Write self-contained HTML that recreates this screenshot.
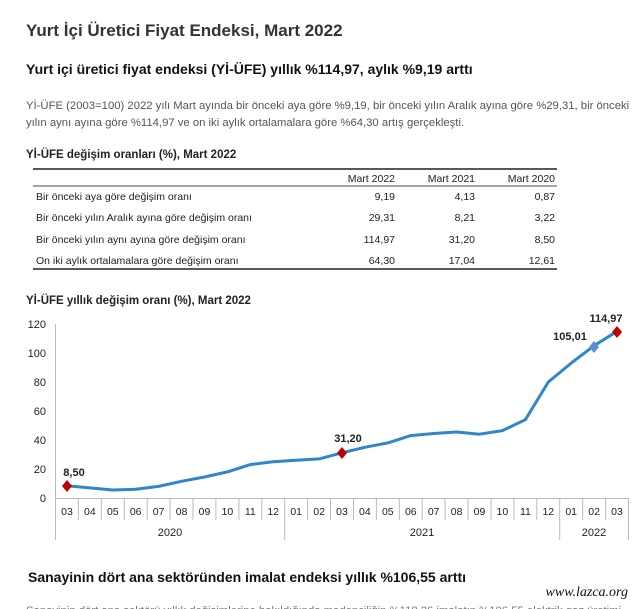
<!DOCTYPE html>
<html><head><meta charset="utf-8"><style>
body{margin:0;width:640px;height:609px;overflow:hidden;background:#fff;font-family:"Liberation Sans",sans-serif;color:#222;position:relative}
.a{position:absolute;white-space:nowrap}
</style></head><body>
<div class="a" style="left:26px;top:21px;font-size:17px;font-weight:bold;color:#333">Yurt İçi Üretici Fiyat Endeksi, Mart 2022</div>
<div class="a" style="left:26px;top:61px;font-size:14px;font-weight:bold;color:#111">Yurt içi üretici fiyat endeksi (Yİ-ÜFE) yıllık %114,97, aylık %9,19 arttı</div>
<div class="a" style="left:26px;top:98px;font-size:11.3px;color:#555;line-height:17px">Yİ-ÜFE (2003=100) 2022 yılı Mart ayında bir önceki aya göre %9,19, bir önceki yılın Aralık ayına göre %29,31, bir önceki<br>yılın aynı ayına göre %114,97 ve on iki aylık ortalamalara göre %64,30 artış gerçekleşti.</div>
<div class="a" style="left:26px;top:149px;font-size:11.5px;font-weight:bold;color:#222">Yİ-ÜFE değişim oranları (%), Mart 2022</div>
<svg class="a" style="left:0;top:0" width="640" height="609" font-family="Liberation Sans, sans-serif">
<line x1="33" y1="169" x2="557" y2="169" stroke="#222" stroke-width="1.5"/>
<line x1="33" y1="186" x2="557" y2="186" stroke="#444" stroke-width="1"/>
<line x1="33" y1="269" x2="557" y2="269" stroke="#222" stroke-width="1.5"/>
<g font-size="10.5" fill="#222">
<text x="395" y="182" text-anchor="end">Mart 2022</text><text x="475" y="182" text-anchor="end">Mart 2021</text><text x="555" y="182" text-anchor="end">Mart 2020</text>
<text x="36" y="200">Bir önceki aya göre değişim oranı</text><text x="395" y="200" text-anchor="end">9,19</text><text x="475" y="200" text-anchor="end">4,13</text><text x="555" y="200" text-anchor="end">0,87</text>
<text x="36" y="221">Bir önceki yılın Aralık ayına göre değişim oranı</text><text x="395" y="221" text-anchor="end">29,31</text><text x="475" y="221" text-anchor="end">8,21</text><text x="555" y="221" text-anchor="end">3,22</text>
<text x="36" y="243">Bir önceki yılın aynı ayına göre değişim oranı</text><text x="395" y="243" text-anchor="end">114,97</text><text x="475" y="243" text-anchor="end">31,20</text><text x="555" y="243" text-anchor="end">8,50</text>
<text x="36" y="264">On iki aylık ortalamalara göre değişim oranı</text><text x="395" y="264" text-anchor="end">64,30</text><text x="475" y="264" text-anchor="end">17,04</text><text x="555" y="264" text-anchor="end">12,61</text>
</g>
<text x="26" y="304" font-size="11.5" font-weight="bold" fill="#222">Yİ-ÜFE yıllık değişim oranı (%), Mart 2022</text>
<g font-size="11" fill="#222" text-anchor="end">
<text x="46" y="502">0</text><text x="46" y="473">20</text><text x="46" y="444">40</text><text x="46" y="415">60</text><text x="46" y="386">80</text><text x="46" y="357">100</text><text x="46" y="328">120</text>
</g>
<g stroke="#bbb" stroke-width="1">
<line x1="55.5" y1="324" x2="55.5" y2="540"/>
<line x1="55" y1="498.5" x2="628" y2="498.5"/>
</g>
<g id="ticks" stroke="#bbb"></g>
<g id="mlab" font-size="10.5" fill="#222" text-anchor="middle"></g>
<g font-size="11" fill="#222" text-anchor="middle"><text x="170" y="536">2020</text><text x="422" y="536">2021</text><text x="594" y="536">2022</text></g>
<polyline id="ln" fill="none" stroke="#2f86c9" stroke-width="3" stroke-linejoin="round"/>
<g fill="#c00000"><path d="M67 480l5 6-5 6-5-6z"/><path d="M342 447l5 6-5 6-5-6z"/><path d="M617 326l5 6-5 6-5-6z"/></g>
<path d="M594 341l5 6-5 6-5-6z" fill="#5b8fcf"/>
<g font-size="11" font-weight="bold" fill="#222" text-anchor="middle">
<text x="74" y="476">8,50</text><text x="348" y="442">31,20</text><text x="570" y="340">105,01</text><text x="606" y="322">114,97</text></g>
<text x="28" y="582" font-size="14" font-weight="bold" fill="#111">Sanayinin dört ana sektöründen imalat endeksi yıllık %106,55 arttı</text>
<text x="628" y="596" font-size="14" font-style="italic" font-family="Liberation Serif, serif" fill="#111" text-anchor="end">www.lazca.org</text>
<text x="26" y="614" font-size="11.3" fill="#777">Sanayinin dört ana sektörü yıllık değişimlerine bakıldığında madenciliğin %118,26 imalatın %106,55 elektrik gaz üretimi</text>
</svg>
<script>
var v=[8.5,7,5.5,6,8,11.5,14.5,18,23,25,26,27,31.2,35,38,43,44.5,45.5,44,46.5,54,80,93,105.01,114.97];
var m=["03","04","05","06","07","08","09","10","11","12","01","02","03","04","05","06","07","08","09","10","11","12","01","02","03"];
var w=22.92,x0=55.5,pts=[],t="",l="";
for(var i=0;i<25;i++){var x=x0+w*(i+0.5);pts.push(x.toFixed(1)+","+(498-v[i]*1.45).toFixed(1));
l+='<text x="'+x.toFixed(1)+'" y="515">'+m[i]+'</text>';}
for(var i=1;i<=25;i++){var x=(x0+w*i).toFixed(1);var y2=(i==10||i==22||i==25)?540:520;t+='<line x1="'+x+'" y1="498" x2="'+x+'" y2="'+y2+'"/>';}
document.getElementById("ln").setAttribute("points",pts.join(" "));
document.getElementById("ticks").innerHTML=t;document.getElementById("mlab").innerHTML=l;
</script>
</body></html>
